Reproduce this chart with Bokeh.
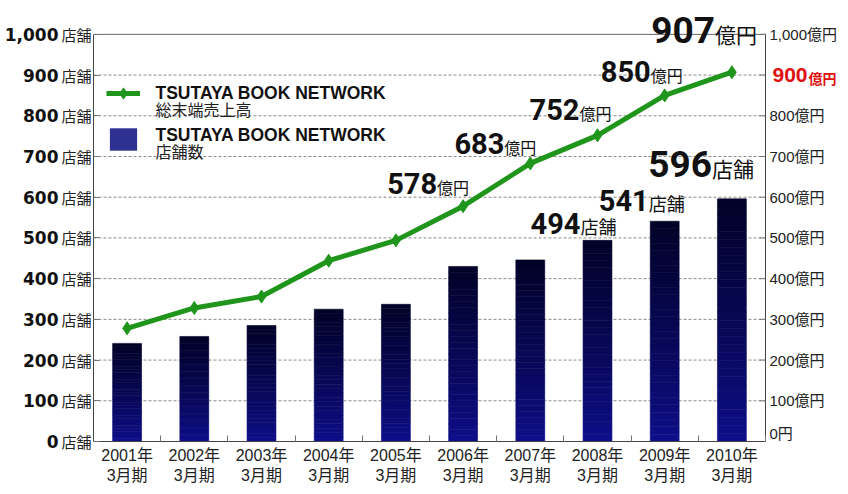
import numpy as np
from bokeh.plotting import figure
from bokeh.models import (Range1d, LinearAxis, FixedTicker, ColumnDataSource, LabelSet,
                          Label, Legend, LegendItem)
from bokeh.core.properties import value
from bokeh.embed import file_html
from bokeh.resources import INLINE

# ---------------- data ----------------
years = ["2001年", "2002年", "2003年", "2004年", "2005年",
         "2006年", "2007年", "2008年", "2009年", "2010年"]
period = "3月期"
stores = [241, 258, 285, 325, 337, 430, 446, 494, 541, 596]          # 店舗数
sales = [278, 328, 356, 444, 494, 578, 683, 752, 850, 907]           # 総末端売上高 (億円)
axis_ticks = [0, 100, 200, 300, 400, 500, 600, 700, 800, 900, 1000]
left_numbers = ["0", "100", "200", "300", "400", "500", "600", "700", "800", "900", "1,000"]
left_unit = "店舗"
right_labels = ["0円", "100億円", "200億円", "300億円", "400億円", "500億円",
                "600億円", "700億円", "800億円", "", "1,000億円"]
highlight_tick = 900
highlight_unit = "億円"
legend_title = "TSUTAYA BOOK NETWORK"
legend_sales = "総末端売上高"
legend_stores = "店舗数"
sales_labeled = [5, 6, 7, 8, 9]
stores_labeled = [7, 8, 9]

# ---------------- style / layout ----------------
NUM_FONT = "Roboto"
JP_FONT = "Noto Sans CJK JP"
LAT_FONT = "Liberation Sans"
MIX_FONT = "Liberation Sans, Noto Sans CJK JP"
GREEN = "#1f951c"
BAR_BOTTOM = (14, 14, 140)
BAR_TOP = (2, 2, 40)
N_SEG = 30
W, H = 840, 486
LEFT, TOP_PAD, AXIS_TOP, AXIS_BOTTOM, AXIS_RIGHT = 93, 4, 34, 443, 765

xs = list(range(len(years)))
x_lo, x_hi = -0.5, len(years) - 0.5
y_max = axis_ticks[-1]
# the frame is extended to the right and top so that labels there are not clipped
x_end = x_lo + (x_hi - x_lo) * (W - LEFT) / (AXIS_RIGHT - LEFT)
y_end = y_max * (AXIS_BOTTOM - TOP_PAD) / (AXIS_BOTTOM - AXIS_TOP)

p = figure(width=W, height=H, x_range=Range1d(x_lo, x_end),
           y_range=Range1d(0, y_end), output_backend="svg", toolbar_location=None,
           x_axis_location=None, y_axis_location=None,
           min_border_left=LEFT, min_border_right=0, min_border_top=TOP_PAD, min_border_bottom=43)
p.extra_y_ranges = {"y2": Range1d(0, y_end)}
p.background_fill_color = "white"
p.border_fill_color = "white"
p.outline_line_color = None
p.xgrid.visible = False
p.ygrid.visible = False

# grid lines and plot box (limited to the axis area)
grid_levels = axis_ticks[1:-1]
p.segment(x0=[x_lo] * len(grid_levels), x1=[x_hi] * len(grid_levels), y0=grid_levels,
          y1=grid_levels, line_color="#8c8c8c", line_dash="3 2", line_width=1)
p.segment(x0=[x_lo], x1=[x_hi], y0=[y_max], y1=[y_max], line_color="#666666", line_width=1)
p.segment(x0=[x_hi], x1=[x_hi], y0=[0], y1=[y_max], line_color="#444444", line_width=1)
p.ray(x=[x_hi] * len(axis_ticks), y=axis_ticks, length=6, length_units="screen",
      angle=np.pi, line_color="#777777", line_width=1)

# bars with vertical gradient (built from segments of each bar's own value)
seg_x, seg_b, seg_t, seg_c = [], [], [], []
for i, v in zip(xs, stores):
    for k in range(N_SEG):
        f = (k + 0.5) / N_SEG
        c = tuple(int(round(BAR_BOTTOM[j] + (BAR_TOP[j] - BAR_BOTTOM[j]) * f ** 0.85)) for j in range(3))
        seg_x.append(i)
        seg_b.append(v * k / N_SEG)
        seg_t.append(v * (k + 1) / N_SEG)
        seg_c.append("#%02x%02x%02x" % c)
p.vbar(x=seg_x, bottom=seg_b, top=seg_t, width=0.43, fill_color=seg_c,
       line_color=seg_c, line_width=0.6)

# legend proxy for the bars (zero width, only its legend swatch shows)
bar_proxy = p.vbar(x=xs, top=stores, width=0, fill_color="#2e3192", line_color=None)

line_r = p.line(xs, sales, y_range_name="y2", line_color=GREEN, line_width=5)
mark_r = p.scatter(xs, sales, y_range_name="y2", marker="diamond", size=13,
                   fill_color=GREEN, line_color=GREEN)

# ---------------- axes ----------------
tick_model = FixedTicker(ticks=axis_ticks)
unit_axis = LinearAxis(ticker=tick_model, bounds=(0, y_max),
                       major_label_overrides={t: left_unit for t in axis_ticks},
                       major_label_text_font=JP_FONT, major_label_text_font_size="15px",
                       major_label_text_color="#222222", major_label_standoff=2,
                       axis_line_color="#444444", major_tick_line_color="#777777",
                       major_tick_in=6, major_tick_out=0, minor_tick_line_color=None)
num_axis = LinearAxis(ticker=tick_model, bounds=(0, y_max),
                      major_label_overrides=dict(zip(axis_ticks, left_numbers)),
                      major_label_text_font="DejaVu Sans", major_label_text_font_size="17px",
                      major_label_text_font_style="bold", major_label_text_color="#111111",
                      major_label_standoff=0, axis_line_color=None, major_tick_line_color=None,
                      major_tick_in=0, major_tick_out=0, minor_tick_line_color=None)
p.add_layout(unit_axis, "left")
p.add_layout(num_axis, "left")

x_axis = LinearAxis(ticker=FixedTicker(ticks=xs, minor_ticks=[i - 0.5 for i in range(len(years) + 1)]),
                    bounds=(x_lo, x_hi),
                    major_label_overrides={i: years[i] + "\n" + period for i in xs},
                    major_label_text_font=MIX_FONT,
                    major_label_text_font_size="16px", major_label_text_color="#222222",
                    major_label_text_line_height=1.2, major_label_standoff=5,
                    axis_line_color="#444444", major_tick_in=0, major_tick_out=0,
                    minor_tick_in=6, minor_tick_out=0, minor_tick_line_color="#777777")
p.add_layout(x_axis, "below")

# right-hand (億円) tick labels; the lowest one is lifted to stay inside the canvas frame
right_dy = [8] + [0] * (len(axis_ticks) - 1)
src_r = ColumnDataSource(dict(x=[x_hi] * len(axis_ticks), y=axis_ticks, t=right_labels, dy=right_dy))
p.add_layout(LabelSet(x="x", y="y", text="t", source=src_r, y_range_name="y2", x_offset=4,
                      y_offset="dy", text_font=value(MIX_FONT), text_font_size="15px",
                      text_color="#222222", text_baseline="middle", text_align="left"))
src_red = ColumnDataSource(dict(x=[x_hi], y=[highlight_tick], num=[str(highlight_tick)],
                                unit=[highlight_unit]))
p.add_layout(LabelSet(x="x", y="y", text="num", source=src_red, y_range_name="y2", x_offset=7,
                      text_font=value(LAT_FONT), text_font_style="bold", text_font_size="21px",
                      text_color="#e01010", text_baseline="middle"))
p.add_layout(LabelSet(x="x", y="y", text="unit", source=src_red, y_range_name="y2", x_offset=43,
                      y_offset=-3, text_font=value(JP_FONT), text_font_style="bold",
                      text_font_size="14px", text_color="#e01010", text_baseline="middle"))

# ---------------- data labels ----------------
sales_dx = [-26, -26, -18, -14, -17]
sales_dy = [12, 9, 15, 13, 29]
sales_num_size = ["29px", "29px", "29px", "29px", "37px"]
sales_unit_size = ["16px", "16px", "16px", "16px", "21px"]
src_s = ColumnDataSource(dict(
    x=[xs[i] for i in sales_labeled], y=[sales[i] for i in sales_labeled],
    num=[str(sales[i]) for i in sales_labeled], unit=["億円"] * len(sales_labeled),
    dx=sales_dx, dy=sales_dy, fn=sales_num_size, fu=sales_unit_size))

stores_dx = [-17, -16, -20]
stores_dy = [6, 10, 22]
stores_num_size = ["29px", "29px", "37px"]
stores_unit_size = ["18px", "18px", "21px"]
src_b = ColumnDataSource(dict(
    x=[xs[i] for i in stores_labeled], y=[stores[i] for i in stores_labeled],
    num=[str(stores[i]) for i in stores_labeled], unit=["店舗"] * len(stores_labeled),
    dx=stores_dx, dy=stores_dy, fn=stores_num_size, fu=stores_unit_size))

for src, rng in ((src_s, "y2"), (src_b, "default")):
    p.add_layout(LabelSet(x="x", y="y", text="num", source=src, y_range_name=rng,
                          x_offset="dx", y_offset="dy", text_align="right",
                          text_baseline="alphabetic", text_font=value(NUM_FONT),
                          text_font_style="bold", text_font_size="fn", text_color="#111111"))
    p.add_layout(LabelSet(x="x", y="y", text="unit", source=src, y_range_name=rng,
                          x_offset="dx", y_offset="dy", text_align="left",
                          text_baseline="alphabetic", text_font=value(JP_FONT),
                          text_font_size="fu", text_color="#111111"))

# ---------------- legend ----------------
legend = Legend(items=[LegendItem(label=" ", renderers=[line_r, mark_r]),
                       LegendItem(label=" ", renderers=[bar_proxy])],
                location=(13, 288), glyph_width=34, glyph_height=28, label_height=28,
                spacing=18, padding=5, margin=0, label_standoff=15,
                background_fill_alpha=0, border_line_color=None,
                label_text_font=LAT_FONT, label_text_font_size="17px")
p.add_layout(legend)
legend_texts = [(legend_title, -59, "bold", LAT_FONT, "17.5px", "alphabetic", "#111111"),
                (legend_sales, -63, "normal", JP_FONT, "16px", "top", "#222222"),
                (legend_title, -101, "bold", LAT_FONT, "17.5px", "alphabetic", "#111111"),
                (legend_stores, -105, "normal", JP_FONT, "16px", "top", "#222222")]
for txt, dy, style, font, size, base, col in legend_texts:
    p.add_layout(Label(x=x_lo, y=y_max, x_offset=62, y_offset=dy, text=txt,
                       text_font=font, text_font_style=style, text_font_size=size,
                       text_color=col, text_baseline=base))

open("out.html", "w").write(file_html(p, INLINE))
